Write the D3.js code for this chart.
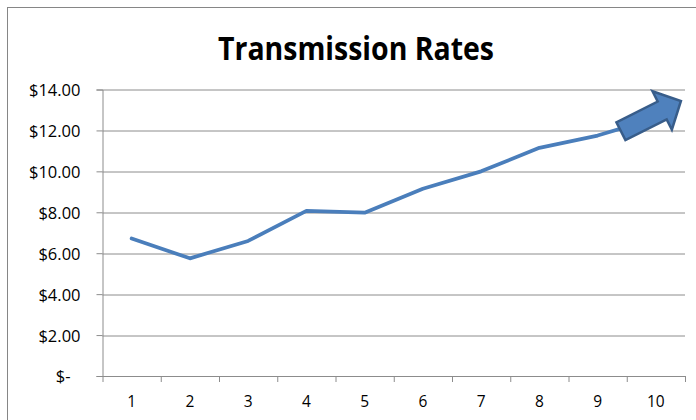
<!DOCTYPE html>
<html>
<head>
<meta charset="utf-8">
<script src="https://cdn.jsdelivr.net/npm/d3@7"></script>
<style>
  body{margin:0;background:#fff;}
  text{font-family:"Open Sans","Liberation Sans",sans-serif;}
</style>
</head>
<body>
<div class="chart"></div>
<script>
// data
var periods=[1,2,3,4,5,6,7,8,9,10]
var rates=[6.72,5.75,6.6,8.07,7.98,9.15,10.0,11.15,11.75,12.6]
var yTicks=[0,2,4,6,8,10,12,14]
var title="Transmission Rates"
// the trend arrow drawn over the end of the line (period, rate)
var arrowFrom=[9.4,11.96]
var arrowTo=[10.43,13.44]

var drawChart=function(){
  var screen={width:696,height:420}
  var margin={top:89.5,right:11,bottom:44,left:102.5}
  var w=screen.width-margin.left-margin.right
  var h=screen.height-margin.top-margin.bottom

  var svg=d3.select(".chart").append("svg")
      .attr('width',screen.width)
      .attr('height',screen.height)

  // chart border
  svg.append('rect')
      .attr('x',7.5)
      .attr('y',7.5)
      .attr('width',screen.width)
      .attr('height',screen.height)
      .style('fill','none')
      .style('stroke','#868686')

  svg.append('text')
      .attr('x',356)
      .attr('y',60)
      .attr('text-anchor','middle')
      .attr('textLength',276)
      .attr('lengthAdjust','spacingAndGlyphs')
      .style('font-family','"Open Sans",sans-serif')
      .style('font-weight','bold')
      .style('font-size','33px')
      .style('fill','#000')
      .text(title)

  var x=d3.scaleLinear()
      .domain([0.5,periods.length+0.5])
      .range([0,w])
  var y=d3.scaleLinear()
      .domain([0,14])
      .range([h,0])

  var g=svg.append('g')
      .attr('transform','translate('+margin.left+','+margin.top+')')

  // gridlines
  g.append('g').selectAll('line')
      .data(yTicks.slice(1))
      .enter().append('line')
      .attr('x1',0)
      .attr('x2',w)
      .attr('y1',function(d){return Math.round(y(d))+0.5})
      .attr('y2',function(d){return Math.round(y(d))+0.5})
      .style('stroke','#8c8c8c')
      .attr('stroke-width',1)

  // y axis
  var yAxis=g.append('g')
      .call(d3.axisLeft(y).tickValues(yTicks).tickSizeOuter(0).tickSize(6).tickPadding(16)
        .tickFormat(function(d){return d==0?"$-":"$"+d3.format(".2f")(d)}))
  yAxis.selectAll('line,path').style('stroke','#8c8c8c')
  yAxis.selectAll('text')
      .style('font-size','16.5px')
      .style('fill','#000')
      .attr('dy','0.36em')
  yAxis.selectAll('.tick').filter(function(d){return d==0})
      .select('text').attr('dx',-10)

  // x axis: ticks on category edges, labels in the middle
  var edges=d3.range(0.5,periods.length+1,1)
  var xAxis=g.append('g')
      .attr('transform','translate(0,'+h+')')
      .call(d3.axisBottom(x).tickValues(edges).tickSize(6).tickSizeOuter(0).tickFormat(""))
  xAxis.selectAll('line,path').style('stroke','#8c8c8c')

  g.append('g').selectAll('text')
      .data(periods)
      .enter().append('text')
      .attr('x',function(d){return x(d)})
      .attr('y',h+31)
      .attr('text-anchor','middle')
      .style('font-size','15.5px')
      .style('fill','#000')
      .text(function(d){return d})

  // rate line
  var line=d3.line()
      .x(function(d,i){return x(periods[i])})
      .y(function(d){return y(d)})
  g.append('path')
      .datum(rates)
      .attr('d',line)
      .style('fill','none')
      .style('stroke','#4a7ebb')
      .attr('stroke-width',3.75)
      .attr('stroke-linejoin','round')
      .attr('stroke-linecap','round')

  // trend arrow
  var x0=x(arrowFrom[0]),y0=y(arrowFrom[1])
  var x1=x(arrowTo[0]),y1=y(arrowTo[1])
  var len=Math.sqrt((x1-x0)*(x1-x0)+(y1-y0)*(y1-y0))
  var ang=Math.atan2(y1-y0,x1-x0)*180/Math.PI
  var sw=10,hw=21.5,hl=21
  var pts=[[0,-sw],[len-hl,-sw],[len-hl,-hw],[len,0],[len-hl,hw],[len-hl,sw],[0,sw]]
  g.append('polygon')
      .attr('points',pts.map(function(p){return p.join(',')}).join(' '))
      .attr('transform','translate('+x0+','+y0+') rotate('+ang+')')
      .style('fill','#4f81bd')
      .style('stroke','#385d8a')
      .attr('stroke-width',2.5)
      .attr('stroke-linejoin','miter')
}

drawChart()
</script>
</body>
</html>
